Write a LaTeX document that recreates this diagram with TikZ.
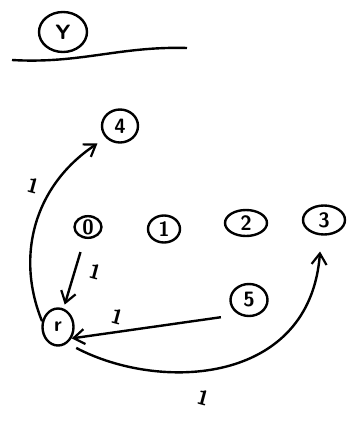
\documentclass[tikz,border=0pt]{standalone}
\usepackage{tikz}
\usetikzlibrary{positioning,arrows.meta,shapes.geometric}

\begin{document}
\begin{tikzpicture}[
    x=1pt, y=-1pt,
    vert/.style={draw, ellipse, line width=2.4pt, inner sep=0pt,
                 font=\sffamily\bfseries\huge},
    wlabel/.style={font=\sffamily\bfseries\huge, rotate=-15},
    arr/.style={-{Straight Barb[length=11pt,width=15pt,line width=2.2pt]}, line width=2.4pt},
  ]
  \useasboundingbox (0,0) rectangle (360,423);

  % Title
  \node[vert, minimum width=48pt, minimum height=40pt] (title) at (63,32) {Y};
  \coordinate (ulA) at (12,60);
  \coordinate (ulB) at (187,48);
  \draw[line width=2.4pt] (ulA) .. controls (80,64) and (120,46) .. (ulB);

  % Vertices
  \node[vert, minimum width=36pt, minimum height=33pt] (n4) at (120,126) {4};
  \node[vert, minimum width=27pt, minimum height=21pt] (n0) at (88,227) {0};
  \node[vert, minimum width=32pt, minimum height=27pt] (n1) at (164,229) {1};
  \node[vert, minimum width=42pt, minimum height=26pt] (n2) at (246,223) {2};
  \node[vert, minimum width=42pt, minimum height=29pt] (n3) at (324,220) {3};
  \node[vert, minimum width=37pt, minimum height=32pt] (n5) at (249,300) {5};
  \node[vert, minimum width=31pt, minimum height=37pt] (r)  at (58,327)  {r};

  % Weights
  \node[wlabel] (w4) at (33,186) {1};
  \node[wlabel] (w0) at (95,272) {1};
  \node[wlabel] (w5) at (117,317) {1};
  \node[wlabel] (w3) at (203,398) {1};

  % Edges
  \draw[arr, shorten <=14pt, shorten >=4pt] (n0) -- (r);
  \draw[arr, shorten >=10pt] (r.160) .. controls (15,255) and (35,185) .. (n4.220);
  \draw[arr, shorten <=18pt] (n5.235) -- (r.-40);
  \draw[arr, shorten <=10pt, shorten >=16pt] (r.-60) .. controls (160,392) and (310,385) .. (n3.-100);
\end{tikzpicture}
\end{document}
